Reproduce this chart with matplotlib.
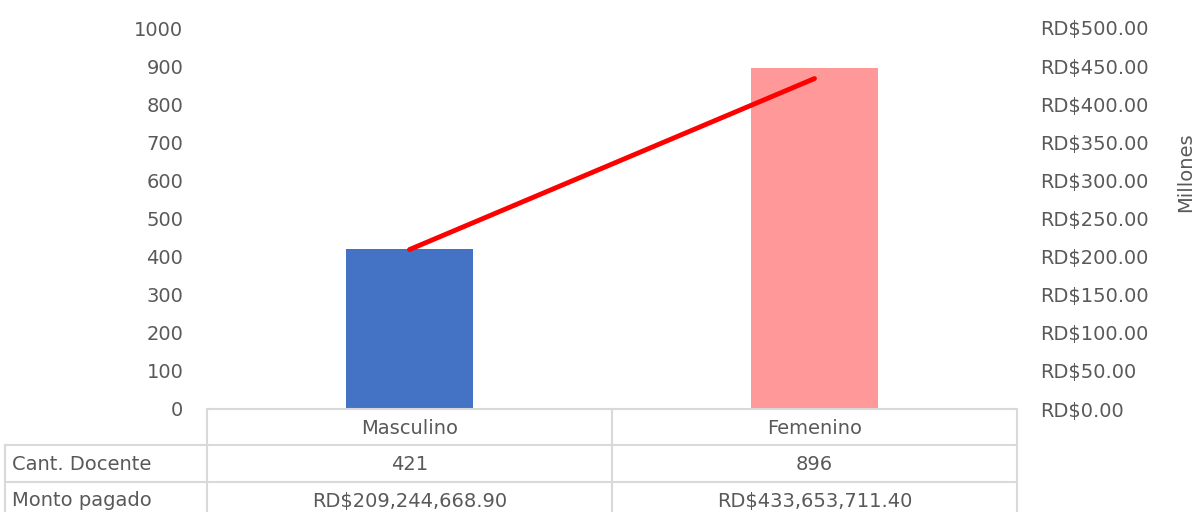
import matplotlib
matplotlib.use('Agg')
import matplotlib.pyplot as plt
from matplotlib.lines import Line2D

plt.rcParams['font.family'] = ['DejaVu Sans']

categories = ['Masculino', 'Femenino']
cant_docente = [421, 896]
monto_pagado = [209244668.90, 433653711.40]
row_labels = ['Cant. Docente', 'Monto pagado']
bar_colors = ['#4472C4', '#FF9999']

TEXT = '#595959'
GRID = '#D9D9D9'
FS = 14

W, H = 1197, 512
fig = plt.figure(figsize=(W / 100, H / 100), dpi=100)

# plot area in pixels (left, top, right, bottom)
L, T, R, B = 207, 28, 1017, 409
ax = fig.add_axes([L / W, 1 - B / H, (R - L) / W, (B - T) / H])
x = range(len(categories))
ax.bar(x, cant_docente, width=0.315, color=bar_colors)
ax.set_xlim(-0.5, len(categories) - 0.5)
ax.set_ylim(0, 1000)
ax.set_yticks(range(0, 1001, 100))
ax.set_xticks([])
ax.tick_params(axis='y', length=0, pad=17, labelsize=FS, labelcolor=TEXT)
for s in ax.spines.values():
    s.set_visible(False)

ax2 = ax.twinx()
ax2.plot(x, [m / 1e6 for m in monto_pagado], color='#FF0000', lw=3.5,
         solid_capstyle='round')
ax2.set_ylim(0, 500)
ax2.set_yticks(range(0, 501, 50))
ax2.set_yticklabels([f'RD${v:.2f}' for v in range(0, 501, 50)])
ax2.tick_params(axis='y', length=0, pad=16.5, labelsize=FS, labelcolor=TEXT)
for s in ax2.spines.values():
    s.set_visible(False)
ax2.set_xlim(ax.get_xlim())

fig.text(1186 / W, 1 - 172 / H, 'Millones', rotation=90, ha='center',
         va='center', fontsize=FS, color=TEXT)

# data table under the chart
def px_line(x0, y0, x1, y1):
    fig.add_artist(Line2D([x0 / W, x1 / W], [1 - y0 / H, 1 - y1 / H],
                          color=GRID, lw=1.5, transform=fig.transFigure))

row_y = [409, 445, 482, 519]
col_x = [L, (L + R) / 2, R]
px_line(L, row_y[0], R, row_y[0])
for yy in row_y[1:]:
    px_line(5, yy, R, yy)
px_line(5, row_y[1], 5, H + 5)
for xx in col_x:
    px_line(xx, row_y[0], xx, H + 5)

for i, cat in enumerate(categories):
    cx = (col_x[i] + col_x[i + 1]) / 2
    fig.text(cx / W, 1 - 428 / H, cat, ha='center', va='center',
             fontsize=FS, color=TEXT)
    fig.text(cx / W, 1 - 464 / H, f'{cant_docente[i]}', ha='center',
             va='center', fontsize=FS, color=TEXT)
    fig.text(cx / W, 1 - 501 / H, f'RD${monto_pagado[i]:,.2f}', ha='center',
             va='center', fontsize=FS, color=TEXT)

for j, lab in enumerate(row_labels):
    fig.text(12 / W, 1 - (464 + 37 * j) / H, lab, ha='left', va='center',
             fontsize=FS, color=TEXT)

fig.savefig('out.png', dpi=100)
